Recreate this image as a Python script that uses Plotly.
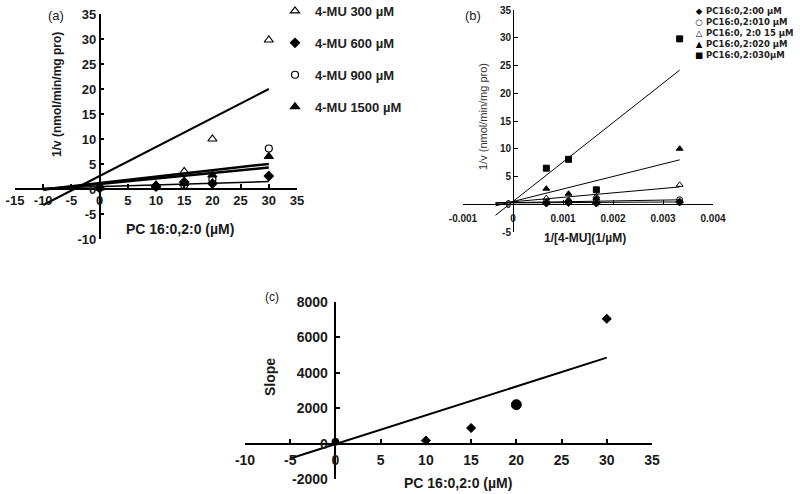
import plotly.graph_objects as go

# ---------------- data ----------------
PC = [0, 10, 15, 20, 30]                     # PC 16:0,2:0 concentrations (µM)
MU = [300, 600, 900, 1500]                   # 4-MU concentrations (µM)
MU_LABELS = ["4-MU 300 µM", "4-MU 600 µM", "4-MU 900 µM", "4-MU 1500 µM"]
PC_LABELS = ["PC16:0,2:00 µM", "PC16:0,2:010 µM", "PC16:0, 2:0 15 µM",
             "PC16:0,2:020 µM", "PC16:0,2:030µM"]

# 1/v (nmol/min/mg pro) for each 4-MU level, listed over PC
INV_V_300 = [0.4, 0.8, 3.5, 10.0, 29.8]
INV_V_600 = [0.2, 0.5, 1.4, 1.1, 2.6]
INV_V_900 = [0.3, 0.5, 0.8, 1.9, 8.1]
INV_V_1500 = [0.2, 0.4, 1.1, 2.8, 6.5]
INV_V = [INV_V_300, INV_V_600, INV_V_900, INV_V_1500]

# trendlines of panel (a): slope, intercept, x start, x end
A_SLOPE = [0.58, 0.033, 0.128, 0.11]
A_INTERCEPT = [2.6, 0.5, 1.18, 1.0]
A_X0 = [-10, -10, -10, -10]
A_X1 = [30, 30, 30, 30]

# trendlines of panel (b)
B_SLOPE = [50, 150, 800, 2250, 7100]
B_INTERCEPT = [0.25, 0.3, 0.45, 0.5, 0.5]
B_X0 = -0.00035
B_X1 = 1 / 300

# panel (c): replot of slopes
SLOPES = [100, 170, 880, 2200, 7050]
C_SLOPE = 163
C_INTERCEPT = -30
C_X0, C_X1 = -5, 30

# tick labels
A_XTICKS = [-15, -10, -5, 0, 5, 10, 15, 20, 25, 30, 35]
A_YTICKS = [-10, -5, 0, 5, 10, 15, 20, 25, 30, 35]
B_XTICKS = [-0.001, 0, 0.001, 0.002, 0.003, 0.004]
B_XTEXT = ["-0.001", "0", "0.001", "0.002", "0.003", "0.004"]
B_YTICKS = [-5, 0, 5, 10, 15, 20, 25, 30, 35]
C_XTICKS = [-10, -5, 0, 5, 10, 15, 20, 25, 30, 35]
C_YTICKS = [-2000, 0, 2000, 4000, 6000, 8000]

# ---------------- style ----------------
W, H = 800, 494
FONT = "Liberation Sans, Arial, sans-serif"
WIDE = "DejaVu Sans, Verdana, sans-serif"
INK = "#1a1a1a"
A_SYMBOLS = ["triangle-up-open", "diamond", "circle-open", "triangle-up"]
A_SIZES = [8, 7, 7, 8]
A_WIDTHS = [2, 1.5, 2.5, 2.5]
B_SYMBOLS = ["diamond", "circle-open", "triangle-up-open", "triangle-up", "square"]
B_GLYPHS = ["◆", "○", "△", "▲", "■"]
C_SYMBOLS = ["circle", "diamond", "diamond", "circle", "diamond"]
C_SIZES = [7, 7, 7, 10, 7]


def px_x(p):
    """page pixel (from the left) -> paper fraction"""
    return p / W


def px_y(p):
    """page pixel (from the top) -> paper fraction"""
    return 1 - p / H


fig = go.Figure()

# ---------------- panel (a) ----------------
for i, lab in enumerate(MU_LABELS):
    xs = [A_X0[i], A_X1[i]]
    fig.add_trace(go.Scatter(
        x=xs, y=[A_INTERCEPT[i] + A_SLOPE[i] * v for v in xs],
        mode="lines", line=dict(color="black", width=A_WIDTHS[i]),
        showlegend=False, hoverinfo="skip", xaxis="x", yaxis="y"))
for i, lab in enumerate(MU_LABELS):
    fig.add_trace(go.Scatter(
        x=PC, y=INV_V[i], mode="markers", name=lab, legendgroup=lab,
        marker=dict(symbol=A_SYMBOLS[i], size=A_SIZES[i], color="black",
                    opacity=1, line=dict(color="black", width=1.2)),
        xaxis="x", yaxis="y", cliponaxis=False))

# ---------------- panel (b) ----------------
inv_mu = [1 / m for m in MU]
for j, lab in enumerate(PC_LABELS):
    xs = [B_X0, B_X1]
    fig.add_trace(go.Scatter(
        x=xs, y=[B_INTERCEPT[j] + B_SLOPE[j] * v for v in xs],
        mode="lines", line=dict(color="black", width=1),
        showlegend=False, hoverinfo="skip", xaxis="x2", yaxis="y2"))
for j, lab in enumerate(PC_LABELS):
    fig.add_trace(go.Scatter(
        x=inv_mu, y=[INV_V[k][j] for k in range(len(MU))], mode="markers",
        name=lab, showlegend=False,
        marker=dict(symbol=B_SYMBOLS[j], size=6, color="black", opacity=1,
                    line=dict(color="black", width=1)),
        xaxis="x2", yaxis="y2", cliponaxis=False))

# ---------------- panel (c) ----------------
cx = [C_X0, C_X1]
fig.add_trace(go.Scatter(
    x=cx, y=[C_INTERCEPT + C_SLOPE * v for v in cx], mode="lines",
    line=dict(color="black", width=2), showlegend=False, hoverinfo="skip",
    xaxis="x3", yaxis="y3"))
fig.add_trace(go.Scatter(
    x=PC, y=SLOPES, mode="markers", name="Slope", showlegend=False,
    marker=dict(symbol=C_SYMBOLS, size=C_SIZES, color="black", opacity=1,
                line=dict(color="black", width=1)),
    xaxis="x3", yaxis="y3", cliponaxis=False))


# ---------------- axes ----------------
def axis(domain, rng, pos, tickvals, ticktext, size, lw, bold=True, standoff=0):
    return dict(domain=domain, range=rng, anchor="free", position=pos,
                automargin=False, ticklabeloverflow="allow",
                ticklabelstandoff=standoff,
                showline=True, linecolor="black", linewidth=lw,
                ticks="inside", ticklen=4, tickwidth=lw, tickcolor="black",
                tickvals=tickvals, ticktext=ticktext,
                showgrid=False, zeroline=False, fixedrange=True,
                tickfont=dict(family=FONT, size=size, color=INK,
                              weight="bold" if bold else "normal"))


# panel (a): x -15..35 at px 15..297, y -10..35 at px 239..14
a_xd = [px_x(15), px_x(297)]
a_yd = [px_y(239), px_y(14)]
a_xpos = a_xd[0] + (0 - (-15)) / 50 * (a_xd[1] - a_xd[0])
a_ypos = a_yd[0] + (0 - (-10)) / 45 * (a_yd[1] - a_yd[0])
# panel (b): x -0.001..0.004 at px 463..713, y -5..35 at px 232..10
b_xd = [px_x(463), px_x(713)]
b_yd = [px_y(232), px_y(10)]
b_xpos = b_xd[0] + 0.001 / 0.005 * (b_xd[1] - b_xd[0])
b_ypos = b_yd[0] + 5 / 40 * (b_yd[1] - b_yd[0])
# panel (c): x -10..35 at px 245..652, y -2000..8000 at px 479..302
c_xd = [px_x(245), px_x(652)]
c_yd = [px_y(479), px_y(302)]
c_xpos = c_xd[0] + 10 / 45 * (c_xd[1] - c_xd[0])
c_ypos = c_yd[0] + 2000 / 10000 * (c_yd[1] - c_yd[0])

fig.update_layout(
    xaxis=axis(a_xd, [-15, 35], a_ypos, A_XTICKS, [str(v) for v in A_XTICKS], 13, 1.5),
    yaxis=axis(a_yd, [-10, 35], a_xpos, A_YTICKS, [str(v) for v in A_YTICKS], 13, 1.5),
    xaxis2=axis(b_xd, [-0.001, 0.004], b_ypos, B_XTICKS, B_XTEXT, 10, 1, standoff=5),
    yaxis2=axis(b_yd, [-5, 35], b_xpos, B_YTICKS, [str(v) for v in B_YTICKS], 10, 1),
    xaxis3=axis(c_xd, [-10, 35], c_ypos, C_XTICKS, [str(v) for v in C_XTICKS], 14, 1.5,
                standoff=4),
    yaxis3=axis(c_yd, [-2000, 8000], c_xpos, C_YTICKS, [str(v) for v in C_YTICKS], 14, 1.5,
                standoff=4),
)


# ---------------- text ----------------
def note(x, y, text, size, bold=False, angle=0, xanchor="center", color=INK,
         yanchor="middle", align="center", family=FONT):
    return dict(x=px_x(x), y=px_y(y), xref="paper", yref="paper", text=text,
                showarrow=False, xanchor=xanchor, yanchor=yanchor,
                textangle=angle, align=align, borderpad=0,
                font=dict(family=family, size=size, color=color,
                          weight="bold" if bold else "normal"))


annotations = [
    note(56, 15, "(a)", 13),
    note(473, 15, "(b)", 13),
    note(272, 297, "(c)", 12),
    note(57, 94, "1/v (nmol/min/mg pro)", 12, bold=True, angle=-90),
    note(180, 229, "PC 16:0,2:0 (µM)", 14, bold=True),
    note(483, 117, "1/v (nmol/min/mg pro)", 11, angle=-90, color="#333"),
    note(585, 238, "1/[4-MU](1/µM)", 12, bold=True),
    note(270, 377, "Slope", 14, bold=True, angle=-90),
    note(458, 483, "PC 16:0,2:0 (µM)", 14, bold=True),
    # legend of panel (b): a column of symbols and a column of labels
    note(699, 33, "<br>".join(B_GLYPHS), 8.5, color="black", family=WIDE),
    note(705, 33, "<br>".join(PC_LABELS), 8.5, bold=True, xanchor="left",
         align="left", color="#222", family=WIDE),
]

fig.update_layout(
    width=W, height=H, autosize=False,
    margin=dict(l=0, r=0, t=0, b=0, autoexpand=False),
    paper_bgcolor="white", plot_bgcolor="white",
    annotations=annotations,
    showlegend=True,
    legend=dict(x=px_x(275), y=1 + 4 / H, xref="paper", yref="paper",
                xanchor="left", yanchor="top",
                bgcolor="rgba(0,0,0,0)", tracegroupgap=12, itemwidth=30,
                font=dict(family=FONT, size=13, color="#222", weight="bold")),
)

# the page body's default 8px margin would shift the figure; remove it
fig.write_html("out.html", config={"displayModeBar": False},
               post_script="document.body.style.margin='0px';")
